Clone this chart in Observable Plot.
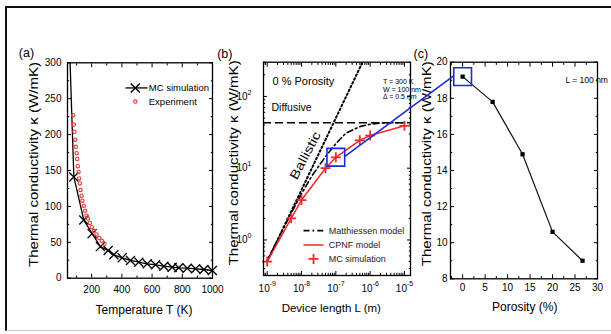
<!DOCTYPE html>
<html><head><meta charset="utf-8">
<script src="https://cdn.jsdelivr.net/npm/d3@7"></script>
<script src="https://cdn.jsdelivr.net/npm/@observablehq/plot@0.6"></script>
<style>
html,body{margin:0;padding:0;background:#fff;}
#wrap{position:relative;width:611px;height:334px;overflow:hidden;background:#fff;font-family:"Liberation Sans",Arial,Helvetica,sans-serif;}
#border{position:absolute;left:5px;top:6px;width:640px;height:322px;border-left:2px solid #111;border-top:2px solid #111;border-bottom:1.5px solid #c4c4c4;}
</style></head><body><div id="wrap"><div id="border"></div></div>
<script>
// ---------- (a) data ----------
const aLineT = [54, 82, 148, 203, 258, 309, 347, 402, 457, 512, 568, 623, 678, 733, 777, 833, 888, 943, 999];
const aLineK = [320, 141, 81, 62, 44, 38.6, 32.6, 28.4, 24.7, 22.3, 20, 18.7, 16.7, 15.3, 14.5, 13.9, 13.1, 12.1, 10.7];
const aExpT = [78, 82, 86, 91, 95, 100, 104, 108, 113, 117, 122, 126, 133, 139, 148, 157, 166, 175, 188, 201, 214, 232, 250, 267, 285];
const aExpK = [227, 214, 204, 193, 183, 174, 166, 156, 148, 139, 132, 123, 115, 108, 101, 94, 87, 83, 77, 71, 66, 61, 56, 52, 48];
const aXTicks = [200, 400, 600, 800, 1000];
const aXMinor = [100, 300, 500, 700, 900];
const aYTicks = [0, 50, 100, 150, 200, 250, 300];
const aYMinor = [25, 75, 125, 175, 225, 275];

// ---------- (b) data ----------
const bMcL = [1e-9, 5e-9, 1e-8, 5e-8, 1e-7, 5e-7, 1e-6, 1e-5];
const bMcK = [0.5, 2.0, 3.6, 10, 14.2, 24.5, 28.5, 39];
const bMatL = [1e-9, 2e-9, 5e-9, 1e-8, 2e-8, 5e-8, 1e-7, 2e-7, 5e-7, 1e-6, 2e-6, 5e-6, 1e-5];
const bMatK = [0.52, 1.0, 2.35, 4.4, 7.8, 14.5, 22, 31, 38, 41, 42.5, 43, 43];
const bBalL = [1e-9, 6e-7];
const bBalK = [0.5, 300];
const bDiffK = [43];
const bXTicks = [1e-9, 1e-8, 1e-7, 1e-6, 1e-5];
const bYTicks = [1, 10, 100];
const bBoxIndex = 4; // highlighted MC point at L = 100 nm

// ---------- (c) data ----------
const cPor = [0, 6.67, 13.33, 20, 26.67];
const cK = [19.2, 17.8, 14.9, 10.6, 9.0];
const cXTicks = [0, 5, 10, 15, 20, 25, 30];
const cXMinor = [-2.5, 2.5, 7.5, 12.5, 17.5, 22.5, 27.5];
const cYTicks = [8, 10, 12, 14, 16, 18, 20];
const cYMinor = [9, 11, 13, 15, 17, 19];

// ---------- helpers ----------
const W = 611, H = 334;
const FONT = "'Liberation Sans', Arial, Helvetica, sans-serif";
const RED = "#f02a2a", BLUE = "#1b2bd8";
const common = {
  width: W, height: H,
  style: {position: "absolute", left: "0px", top: "0px", background: "transparent", fontFamily: FONT, fontSize: "10px", color: "#000", overflow: "visible"}
};
function boxTicks(xMaj, xMin, yMaj, yMin) {
  const o = {fill: "none", label: null, stroke: "#000", strokeWidth: 1};
  const out = [];
  for (const a of ["bottom", "top"]) {
    out.push(Plot.axisX({...o, anchor: a, ticks: xMaj, tickSize: -4}));
    out.push(Plot.axisX({...o, anchor: a, ticks: xMin, tickSize: -2.2}));
  }
  for (const a of ["left", "right"]) {
    out.push(Plot.axisY({...o, anchor: a, ticks: yMaj, tickSize: -4}));
    out.push(Plot.axisY({...o, anchor: a, ticks: yMin, tickSize: -2.2}));
  }
  return out;
}
function logMinor(lo, hi) {
  const out = [];
  for (let e = -12; e <= 4; e++) for (let m = 2; m <= 9; m++) {
    const v = m * Math.pow(10, e);
    if (v >= lo && v <= hi) out.push(v);
  }
  return out;
}
const txt = (s, o) => Plot.text([s], {text: d => d, ...o});
const yTitle = "Thermal conductivity κ (W/mK)";

const aLine = aLineT.map((T, i) => ({T, k: aLineK[i]}));
const aExp = aExpT.map((T, i) => ({T, k: aExpK[i]}));
const bMc = bMcL.map((L, i) => ({L, k: bMcK[i]}));
const bMat = bMatL.map((L, i) => ({L, k: bMatK[i]}));
const bBal = bBalL.map((L, i) => ({L, k: bBalK[i]}));
const cData = cPor.map((p, i) => ({p, k: cK[i]}));

// ---------- panel (a) ----------
const plotA = Plot.plot({
  ...common,
  marginLeft: 67, marginRight: W - 212, marginTop: 62.3, marginBottom: H - 277.7,
  x: {domain: [40, 1000], label: null},
  y: {domain: [0, 300], label: null},
  marks: [
    ...boxTicks(aXTicks, aXMinor, aYTicks, aYMinor),
    Plot.axisX({anchor: "bottom", ticks: aXTicks, tickFormat: d => String(d), tickSize: 0, tickPadding: 7.5, label: null, fontSize: 10}),
    Plot.axisY({anchor: "left", ticks: aYTicks, tickFormat: d => String(d), tickSize: 0, tickPadding: 6, label: null, fontSize: 10}),
    Plot.line(aLine, {x: "T", y: "k", stroke: "#000", strokeWidth: 1.3, clip: true}),
    Plot.dot(aLine.slice(1), {x: "T", y: "k", symbol: "times", r: 4.2, stroke: "#000", strokeWidth: 1.3}),
    Plot.dot(aExp, {x: "T", y: "k", r: 1.7, stroke: "#ea3535", strokeWidth: 1.1, fill: "none"}),
    // legend
    Plot.link([0], {x1: 424, x2: 570, y1: 265, y2: 265, stroke: "#000", strokeWidth: 1.3}),
    Plot.dot([0], {x: 489, y: 265, symbol: "times", r: 4.2, stroke: "#000", strokeWidth: 1.4}),
    Plot.dot([0], {x: 489, y: 246, r: 1.7, stroke: "#ea3535", strokeWidth: 1.1, fill: "none"}),
    txt("MC simulation", {x: 578, y: 265, textAnchor: "start", lineAnchor: "middle", fontSize: 9.5}),
    txt("Experiment", {x: 578, y: 246, textAnchor: "start", lineAnchor: "middle", fontSize: 9.5}),
    Plot.frame({stroke: "#000", strokeWidth: 1.3}),
    txt("(a)", {frameAnchor: "top-left", dx: -48.7, dy: -9.8, textAnchor: "start", lineAnchor: "middle", fontSize: 12.5}),
    txt(yTitle, {frameAnchor: "left", dx: -34, dy: -6, rotate: -90, textAnchor: "middle", lineAnchor: "middle", fontSize: 13.5}),
    txt("Temperature T (K)", {frameAnchor: "bottom", dx: 4, dy: 32.3, lineAnchor: "middle", fontSize: 12})
  ]
});

// ---------- panel (b) ----------
const plotB = Plot.plot({
  ...common,
  marginLeft: 263, marginRight: W - 410, marginTop: 61.7, marginBottom: H - 275,
  x: {type: "log", domain: [7.8e-10, 1.5e-5], label: null},
  y: {type: "log", domain: [0.32, 300], label: null},
  marks: [
    ...boxTicks(bXTicks, logMinor(7.8e-10, 1.5e-5), bYTicks, logMinor(0.32, 300)),
    Plot.axisX({anchor: "bottom", ticks: bXTicks, tickFormat: () => "10", textAnchor: "end", dx: 2.5, tickSize: 0, tickPadding: 9, label: null, fontSize: 10}),
    Plot.axisX({anchor: "bottom", ticks: bXTicks, tickFormat: d => String(Math.round(Math.log10(d))), textAnchor: "start", dx: 2.5, dy: -3.5, tickSize: 0, tickPadding: 9, label: null, fontSize: 7}),
    Plot.axisY({anchor: "left", ticks: bYTicks, tickFormat: () => "10", textAnchor: "end", tickSize: 0, tickPadding: 16, label: null, fontSize: 10}),
    Plot.axisY({anchor: "left", ticks: bYTicks, tickFormat: d => String(Math.round(Math.log10(d))), textAnchor: "start", dy: -4, tickSize: 0, tickPadding: 16, label: null, fontSize: 7}),
    Plot.ruleY(bDiffK, {stroke: "#000", strokeWidth: 1.7, strokeDasharray: "8,4"}),
    Plot.line(bBal, {x: "L", y: "k", stroke: "#000", strokeWidth: 2, strokeDasharray: "1.6,2.6", clip: true}),
    Plot.line(bMat, {x: "L", y: "k", stroke: "#000", strokeWidth: 1.6, strokeDasharray: "6,3,1.8,3"}),
    Plot.line(bMc, {x: "L", y: "k", stroke: RED, strokeWidth: 1.5}),
    Plot.dot(bMc, {x: "L", y: "k", symbol: "plus", r: 3.3, stroke: RED, strokeWidth: 1.8}),
    Plot.dot([bMc[bBoxIndex]], {x: "L", y: "k", symbol: "square", r: 10, stroke: BLUE, strokeWidth: 1.6, fill: "none"}),
    // legend
    Plot.link([0], {x1: 1.14e-8, x2: 4.37e-8, y1: 1.35, y2: 1.35, stroke: "#000", strokeWidth: 1.6, strokeDasharray: "6,3,1.8,3"}),
    Plot.link([0], {x1: 1.14e-8, x2: 4.37e-8, y1: 0.852, y2: 0.852, stroke: RED, strokeWidth: 1.5}),
    Plot.dot([0], {x: 2.24e-8, y: 0.544, symbol: "plus", r: 3.3, stroke: RED, strokeWidth: 1.8}),
    txt("Matthiessen model", {x: 6.25e-8, y: 1.35, textAnchor: "start", lineAnchor: "middle", fontSize: 9, fill: "#222"}),
    txt("CPNF model", {x: 6.25e-8, y: 0.852, textAnchor: "start", lineAnchor: "middle", fontSize: 9, fill: "#222"}),
    txt("MC simulation", {x: 6.25e-8, y: 0.544, textAnchor: "start", lineAnchor: "middle", fontSize: 9, fill: "#222"}),
    // annotations
    txt("0 % Porosity", {frameAnchor: "top-left", dx: 9, dy: 19, textAnchor: "start", lineAnchor: "middle", fontSize: 11}),
    txt("Diffusive", {frameAnchor: "top-left", dx: 8, dy: 45, textAnchor: "start", lineAnchor: "middle", fontSize: 10.5}),
    txt("T = 300 K", {frameAnchor: "top-left", dx: 119.5, dy: 19.3, lineAnchor: "middle", fontSize: 7}),
    txt("W = 100 nm", {frameAnchor: "top-left", dx: 119.5, dy: 27.3, lineAnchor: "middle", fontSize: 7}),
    txt("Δ = 0.5 nm", {frameAnchor: "top-left", dx: 119.5, dy: 35, lineAnchor: "middle", fontSize: 7}),
    txt("Ballistic", {x: 1.3e-8, y: 15, rotate: -62, lineAnchor: "middle", fontSize: 12.5}),
    Plot.frame({stroke: "#000", strokeWidth: 1.3}),
    txt("(b)", {frameAnchor: "top-left", dx: -46.3, dy: -8.7, textAnchor: "start", lineAnchor: "middle", fontSize: 12.5}),
    txt(yTitle, {frameAnchor: "left", dx: -29.5, dy: -6, rotate: -90, textAnchor: "middle", lineAnchor: "middle", fontSize: 13.5}),
    txt("Device length L (m)", {frameAnchor: "bottom", dx: -5.7, dy: 32.7, lineAnchor: "middle", fontSize: 11.5})
  ]
});

// ---------- panel (c) ----------
const plotC = Plot.plot({
  ...common,
  marginLeft: 450, marginRight: W - 597, marginTop: 61.7, marginBottom: H - 278.3,
  x: {domain: [-2.7, 30], label: null},
  y: {domain: [8, 20], label: null},
  marks: [
    ...boxTicks(cXTicks, cXMinor, cYTicks, cYMinor),
    Plot.axisX({anchor: "bottom", ticks: cXTicks, tickSize: 0, tickPadding: 5, label: null, fontSize: 10}),
    Plot.axisY({anchor: "left", ticks: cYTicks, tickSize: 0, tickPadding: 3, label: null, fontSize: 10}),
    Plot.line(cData, {x: "p", y: "k", stroke: "#111", strokeWidth: 1.2}),
    Plot.dot(cData, {x: "p", y: "k", symbol: "square", r: 2.4, fill: "#000", stroke: "none"}),
    Plot.dot([cData[0]], {x: "p", y: "k", symbol: "square", r: 10, stroke: BLUE, strokeWidth: 1.6, fill: "none"}),
    txt("L = 100 nm", {frameAnchor: "top-left", dx: 115, dy: 17.6, lineAnchor: "middle", fontSize: 8.5}),
    Plot.frame({stroke: "#000", strokeWidth: 1.3}),
    txt("(c)", {frameAnchor: "top-left", dx: -37, dy: -8.7, textAnchor: "start", lineAnchor: "middle", fontSize: 12.5}),
    txt(yTitle, {frameAnchor: "left", dx: -24, dy: -6.7, rotate: -90, textAnchor: "middle", lineAnchor: "middle", fontSize: 13.5}),
    txt("Porosity (%)", {frameAnchor: "bottom", dx: 0.7, dy: 28.4, lineAnchor: "middle", fontSize: 12})
  ]
});

const wrap = document.getElementById("wrap");
for (const p of [plotA, plotB, plotC]) {
  wrap.appendChild(p);
  d3.select(p).selectAll("text").each(function () {
    const t = this.textContent;
    if (t === yTitle) d3.select(this).attr("textLength", 205).attr("lengthAdjust", "spacingAndGlyphs");
    if (t === "Ballistic") d3.select(this).attr("textLength", 52).attr("lengthAdjust", "spacingAndGlyphs");
  });
}

// ---------- blue connector between the highlighted points ----------
const half = Math.sqrt(Math.PI) * 10 / 2;
const bx = plotB.scale("x").apply(bMc[bBoxIndex].L) + half;
const by = plotB.scale("y").apply(bMc[bBoxIndex].k);
const cx = plotC.scale("x").apply(cData[0].p) - half;
const cy = plotC.scale("y").apply(cData[0].k);
const ov = d3.create("svg").attr("width", W).attr("height", H)
  .style("position", "absolute").style("left", "0px").style("top", "0px");
ov.append("line").attr("x1", bx).attr("y1", by).attr("x2", cx).attr("y2", cy)
  .attr("stroke", BLUE).attr("stroke-width", 1.6);
wrap.appendChild(ov.node());
</script>
</body></html>
